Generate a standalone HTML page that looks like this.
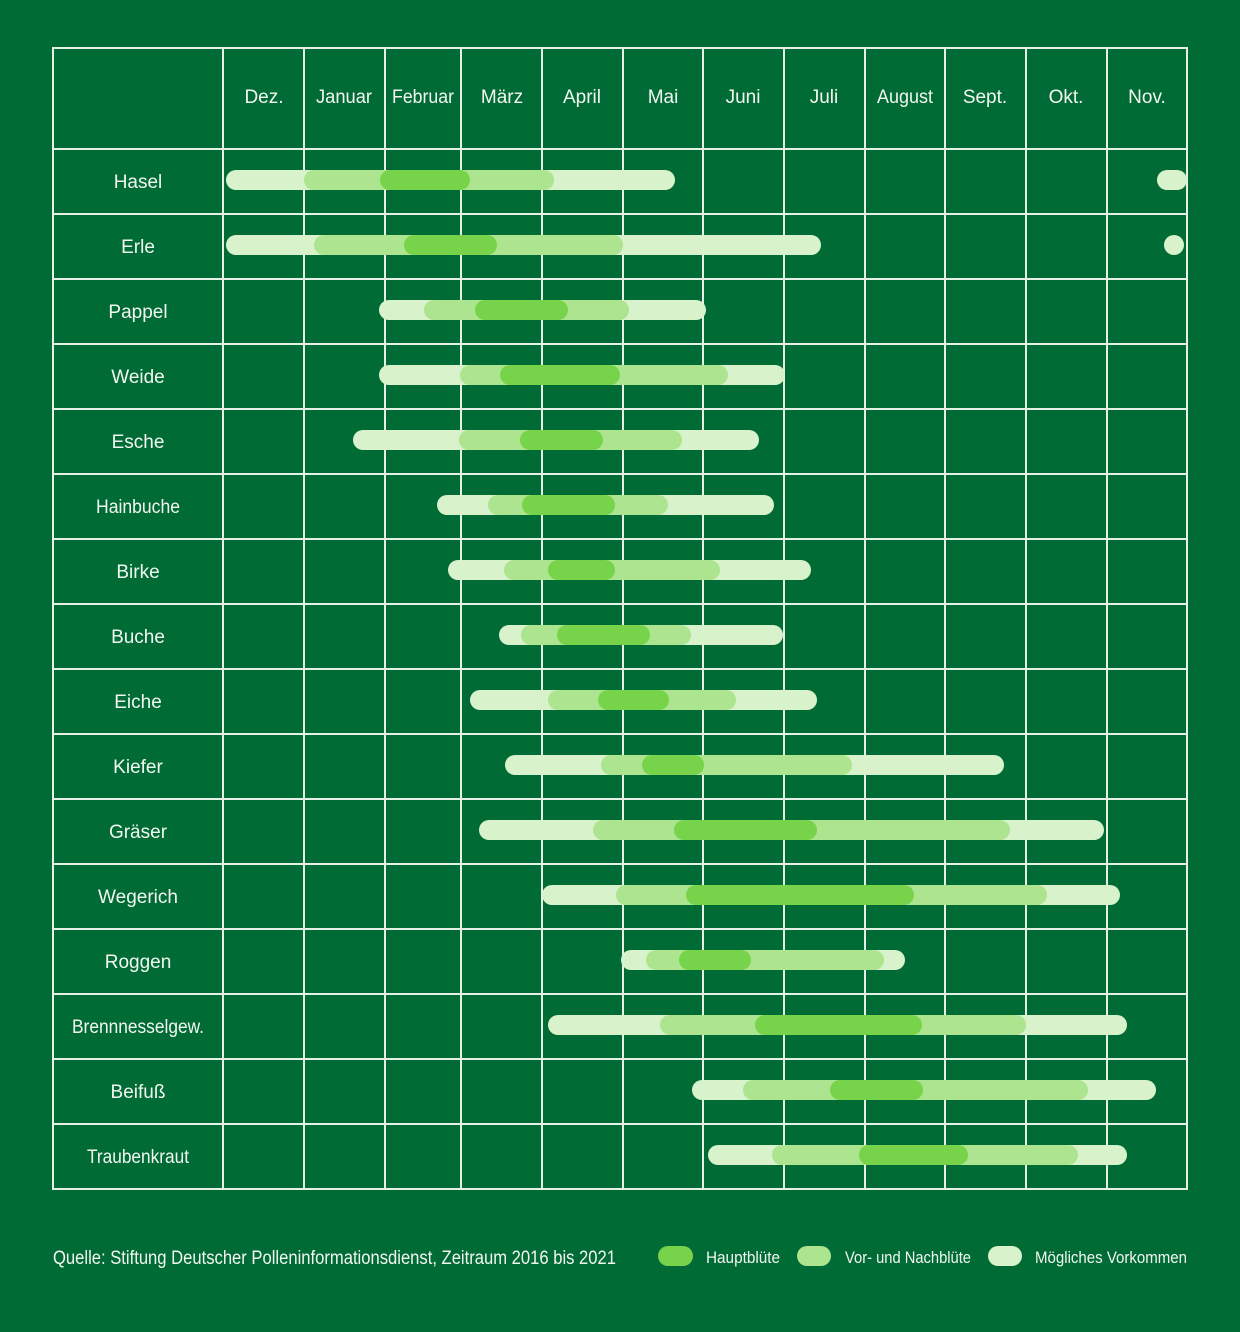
<!DOCTYPE html>
<html><head><meta charset="utf-8"><style>
html,body{margin:0;padding:0;background:#006b35;}
svg{display:block}
text{font-family:"Liberation Sans Narrow","Liberation Sans",sans-serif;fill:#f2f7f0;font-size:19px}
</style></head><body>
<svg width="1240" height="1332" viewBox="0 0 1240 1332" xmlns="http://www.w3.org/2000/svg">
<rect width="1240" height="1332" fill="#006b35"/>
<g stroke="#e6f0e4" stroke-width="2" fill="none">
<rect x="53" y="48" width="1134" height="1141"/>
<path d="M223 48V1189M304 48V1189M385 48V1189M461 48V1189M542 48V1189M623 48V1189M703 48V1189M784 48V1189M865 48V1189M945 48V1189M1026 48V1189M1107 48V1189"/>
<path d="M53 149H1187M53 214H1187M53 279H1187M53 344H1187M53 409H1187M53 474H1187M53 539H1187M53 604H1187M53 669H1187M53 734H1187M53 799H1187M53 864H1187M53 929H1187M53 994H1187M53 1059H1187M53 1124H1187"/>
</g>
<g text-anchor="middle">
<text x="264" y="103">Dez.</text><text x="344" y="103" textLength="56" lengthAdjust="spacingAndGlyphs">Januar</text><text x="423" y="103" textLength="62" lengthAdjust="spacingAndGlyphs">Februar</text><text x="502" y="103">März</text><text x="582" y="103">April</text><text x="663" y="103">Mai</text><text x="743" y="103">Juni</text><text x="824" y="103">Juli</text><text x="905" y="103" textLength="56" lengthAdjust="spacingAndGlyphs">August</text><text x="985" y="103">Sept.</text><text x="1066" y="103">Okt.</text><text x="1147" y="103">Nov.</text>
<text x="138" y="188">Hasel</text><text x="138" y="253">Erle</text><text x="138" y="318">Pappel</text><text x="138" y="383">Weide</text><text x="138" y="448">Esche</text><text x="138" y="513" textLength="84" lengthAdjust="spacingAndGlyphs">Hainbuche</text><text x="138" y="578">Birke</text><text x="138" y="643">Buche</text><text x="138" y="708">Eiche</text><text x="138" y="773">Kiefer</text><text x="138" y="838">Gräser</text><text x="138" y="903">Wegerich</text><text x="138" y="968">Roggen</text><text x="138" y="1033" textLength="132" lengthAdjust="spacingAndGlyphs">Brennnesselgew.</text><text x="138" y="1098">Beifuß</text><text x="138" y="1163" textLength="102" lengthAdjust="spacingAndGlyphs">Traubenkraut</text>
</g>
<g stroke-linecap="round" stroke-width="20">
<g stroke="#d8f2cb">
<path d="M236 180H665M1167 180H1177M236 245H811M389 310H696M389 375H775M363 440H749M447 505H764M458 570H801M509 635H773M480 700H807M515 765H994M489 830H1094M552 895H1110M631 960H895M558 1025H1117M702 1090H1146M718 1155H1117"/>
<circle cx="1174" cy="245" r="10" fill="#d8f2cb" stroke="none"/>
</g>
<g stroke="#ade48f">
<path d="M314 180H544M324 245H613M434 310H619M470 375H718M469 440H672M498 505H658M514 570H710M531 635H681M558 700H726M611 765H842M603 830H1000M626 895H1037M656 960H874M670 1025H1016M753 1090H1078M782 1155H1068"/>
</g>
<g stroke="#77d44a">
<path d="M390 180H460M414 245H487M485 310H558M510 375H610M530 440H593M532 505H605M558 570H605M567 635H640M608 700H659M652 765H694M684 830H807M696 895H904M689 960H741M765 1025H912M840 1090H913M869 1155H958"/>
</g>
</g>
<text x="53" y="1264" style="font-size:19px" textLength="563" lengthAdjust="spacingAndGlyphs">Quelle: Stiftung Deutscher Polleninformationsdienst, Zeitraum 2016 bis 2021</text>
<g stroke-linecap="round" stroke-width="20">
<path d="M668 1256H683" stroke="#77d44a"/>
<path d="M807 1256H821" stroke="#ade48f"/>
<path d="M998 1256H1012" stroke="#d8f2cb"/>
</g>
<text x="706" y="1263" style="font-size:17px" textLength="74" lengthAdjust="spacingAndGlyphs">Hauptblüte</text>
<text x="845" y="1263" style="font-size:17px" textLength="126" lengthAdjust="spacingAndGlyphs">Vor- und Nachblüte</text>
<text x="1035" y="1263" style="font-size:17px" textLength="152" lengthAdjust="spacingAndGlyphs">Mögliches Vorkommen</text>
</svg>
</body></html>
